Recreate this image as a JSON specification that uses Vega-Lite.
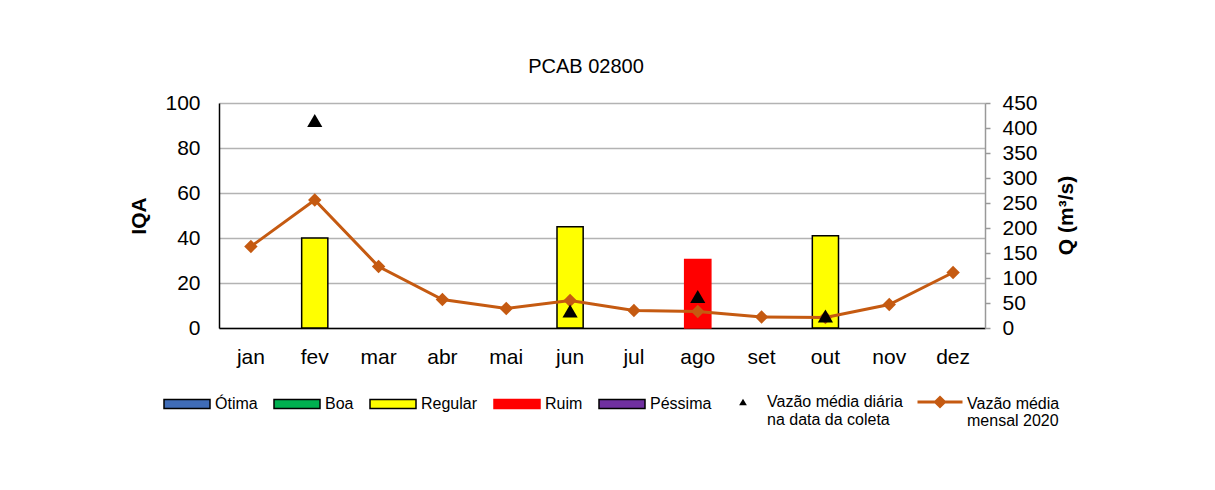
{
  "$schema": "https://vega.github.io/schema/vega-lite/v6.json",
  "width": 766,
  "height": 225,
  "autosize": "none",
  "padding": {"left": 219, "top": 103, "right": 230, "bottom": 162},
  "background": "white",
  "title": {"text": "PCAB 02800", "fontSize": 20, "fontWeight": "normal", "font": "Liberation Sans", "color": "black", "anchor": "middle", "frame": "group", "baseline": "alphabetic", "offset": 30, "dx": -16, "dy": 31},
  "config": {
    "font": "Liberation Sans",
    "view": {"stroke": null},
    "axis": {"labelColor": "black", "titleColor": "black", "labelFont": "Liberation Sans", "titleFont": "Liberation Sans"},
    "legend": {"labelFont": "Liberation Sans", "labelColor": "black", "labelFontSize": 16}
  },
  "datasets": {
    "bars": [
      {"mes": "fev", "IQA": 40, "classe": "Regular"},
      {"mes": "jun", "IQA": 45, "classe": "Regular"},
      {"mes": "ago", "IQA": 30.5, "classe": "Ruim"},
      {"mes": "out", "IQA": 41, "classe": "Regular"}
    ],
    "mensal": [
      {"mes": "jan", "Q": 163, "serie": "Vazão média|mensal 2020"},
      {"mes": "fev", "Q": 256, "serie": "Vazão média|mensal 2020"},
      {"mes": "mar", "Q": 123, "serie": "Vazão média|mensal 2020"},
      {"mes": "abr", "Q": 57, "serie": "Vazão média|mensal 2020"},
      {"mes": "mai", "Q": 39, "serie": "Vazão média|mensal 2020"},
      {"mes": "jun", "Q": 55, "serie": "Vazão média|mensal 2020"},
      {"mes": "jul", "Q": 35, "serie": "Vazão média|mensal 2020"},
      {"mes": "ago", "Q": 33, "serie": "Vazão média|mensal 2020"},
      {"mes": "set", "Q": 22, "serie": "Vazão média|mensal 2020"},
      {"mes": "out", "Q": 21, "serie": "Vazão média|mensal 2020"},
      {"mes": "nov", "Q": 47, "serie": "Vazão média|mensal 2020"},
      {"mes": "dez", "Q": 111, "serie": "Vazão média|mensal 2020"}
    ],
    "diaria": [
      {"mes": "fev", "Q": 415, "serie": "Vazão média diária|na data da coleta"},
      {"mes": "jun", "Q": 34, "serie": "Vazão média diária|na data da coleta"},
      {"mes": "ago", "Q": 63, "serie": "Vazão média diária|na data da coleta"},
      {"mes": "out", "Q": 24, "serie": "Vazão média diária|na data da coleta"}
    ]
  },
  "layer": [
    {
      "data": {"name": "bars"},
      "mark": {"type": "bar", "width": {"band": 0.41}, "strokeWidth": 1.5},
      "encoding": {
        "x": {
          "field": "mes", "type": "nominal",
          "sort": ["jan","fev","mar","abr","mai","jun","jul","ago","set","out","nov","dez"],
          "scale": {"domain": ["jan","fev","mar","abr","mai","jun","jul","ago","set","out","nov","dez"], "paddingInner": 0, "paddingOuter": 0},
          "axis": {"title": null, "labelAngle": 0, "labelFontSize": 21, "labelPadding": 18, "ticks": false, "domainColor": "black", "domainWidth": 1.5, "grid": false}
        },
        "y": {
          "field": "IQA", "type": "quantitative",
          "scale": {"domain": [0, 100]},
          "axis": {"title": "IQA", "titleFontSize": 21, "titleFontWeight": "bold", "titlePadding": 15, "values": [0, 20, 40, 60, 80, 100], "labelFontSize": 21, "labelPadding": 19, "labelOverlap": false, "ticks": false, "domainColor": "black", "domainWidth": 1.5, "grid": true, "gridColor": "#B3B3B3", "gridWidth": 1.5}
        },
        "color": {
          "field": "classe", "type": "nominal",
          "scale": {"domain": ["Ótima", "Boa", "Regular", "Ruim", "Péssima"], "range": ["#3F6CB7", "#00B050", "#FFFF00", "#FF0000", "#7030A0"]},
          "legend": {"title": null, "orient": "none", "legendX": -56, "legendY": 277, "direction": "horizontal", "symbolType": "M-1,-0.2H1V0.2H-1Z", "symbolSize": 2116, "symbolStrokeWidth": 1.5, "labelOffset": 4, "columnPadding": 13, "labelFontSize": 16,
            "encode": {"symbols": {"update": {"stroke": {"signal": "datum.value === 'Ruim' ? '#FF0000' : 'black'"}, "strokeWidth": {"value": 1.5}}}}}
        },
        "stroke": {
          "field": "classe", "type": "nominal",
          "scale": {"domain": ["Ótima", "Boa", "Regular", "Ruim", "Péssima"], "range": ["black", "black", "black", "#FF0000", "black"]},
          "legend": null
        }
      }
    },
    {
      "encoding": {
        "x": {"field": "mes", "type": "nominal", "sort": ["jan","fev","mar","abr","mai","jun","jul","ago","set","out","nov","dez"], "scale": {"domain": ["jan","fev","mar","abr","mai","jun","jul","ago","set","out","nov","dez"], "paddingInner": 0, "paddingOuter": 0}},
        "y": {
          "field": "Q", "type": "quantitative",
          "scale": {"domain": [0, 450]},
          "axis": {"orient": "right", "title": "Q (m³/s)", "titleFontSize": 21, "titleFontWeight": "bold", "titleAngle": 270, "titleX": 81, "titleY": 112, "titleAlign": "center", "titleBaseline": "middle", "values": [0, 50, 100, 150, 200, 250, 300, 350, 400, 450], "labelFontSize": 21, "labelPadding": 12, "labelOverlap": false, "ticks": true, "tickSize": 5, "tickColor": "#999999", "tickWidth": 1.5, "domainColor": "#999999", "domainWidth": 1.5, "grid": false}
        }
      },
      "layer": [
        {
          "data": {"name": "mensal"},
          "mark": {"type": "line", "color": "#C55A11", "strokeWidth": 3},
          "encoding": {
            "stroke": {
              "field": "serie", "type": "nominal",
              "scale": {"range": ["#C55A11"]},
              "legend": {"title": null, "orient": "none", "legendX": 697, "legendY": 275, "symbolType": "M-1,0H1M0,-0.2L0.2,0L0,0.2L-0.2,0Z", "symbolSize": 2025, "symbolStrokeWidth": 3, "labelOffset": 3, "labelFontSize": 16, "labelExpr": "split(datum.label, '|')",
                "encode": {"symbols": {"update": {"fill": {"value": "#C55A11"}, "stroke": {"value": "#C55A11"}, "strokeWidth": {"value": 3}}}, "labels": {"update": {"dy": {"value": 1.5}, "lineHeight": {"value": 17}}}}}
            }
          }
        },
        {
          "data": {"name": "mensal"},
          "mark": {"type": "point", "shape": "diamond", "filled": true, "color": "#C55A11", "size": 180, "opacity": 1}
        },
        {
          "data": {"name": "diaria"},
          "mark": {"type": "point", "filled": true, "color": "black", "size": 230, "opacity": 1},
          "encoding": {
            "shape": {
              "field": "serie", "type": "nominal",
              "scale": {"range": ["triangle-up"]},
              "legend": {"title": null, "orient": "none", "legendX": 516, "legendY": 291, "symbolSize": 60, "symbolFillColor": "black", "symbolStrokeColor": "black", "labelOffset": 16, "labelFontSize": 16, "labelExpr": "split(datum.label, '|')",
                "encode": {"symbols": {"update": {"fill": {"value": "black"}}}, "labels": {"update": {"dy": {"value": 11.5}, "lineHeight": {"value": 17}}}}}
            }
          }
        }
      ]
    }
  ],
  "resolve": {"scale": {"y": "independent", "stroke": "independent"}}
}
